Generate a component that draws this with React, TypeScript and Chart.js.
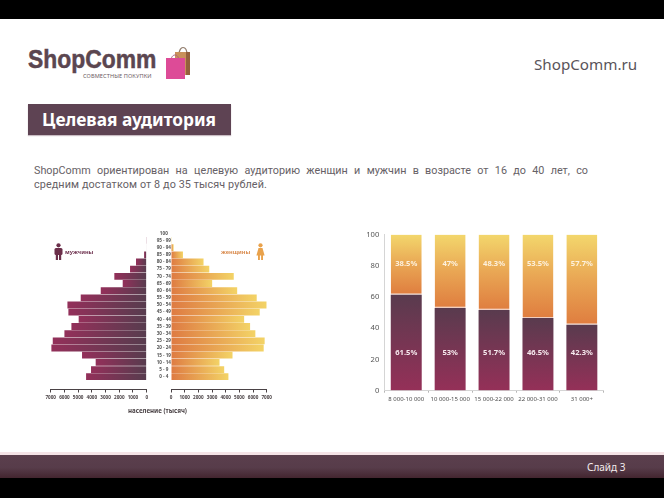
import React, { useEffect, useRef } from "react";
import { Chart, registerables } from "chart.js";

Chart.register(...registerables);

const ages = ["100", "95 - 99", "90 - 94", "85 - 89", "80 - 84", "75 - 79", "70 - 74", "65 - 69", "60 - 64", "55 - 59", "50 - 54", "45 - 49", "40 - 44", "35 - 39", "30 - 34", "25 - 29", "20 - 24", "15 - 19", "10 - 14", "5 - 9", "0 - 4"];
const male = [0, 20, 40, 190, 780, 1215, 2360, 1750, 3350, 4810, 5780, 5710, 4960, 5490, 6000, 6850, 6950, 4715, 3720, 4060, 4420];
const female = [0, 20, 190, 875, 2380, 2800, 4590, 3010, 4840, 6270, 7000, 6490, 5350, 5785, 6170, 6850, 6780, 4500, 3550, 3890, 4200];
const incomes = ["8 000-10 000", "10 000-15 000", "15 000-22 000", "22 000-31 000", "31 000+"];
const lowerShare = [61.5, 53, 51.7, 46.5, 42.3];
const upperShare = [38.5, 47, 48.3, 53.5, 57.7];
const labelLevels = [24, 81];

const TICK = "#4a4245";

function pyramidOptions(side: "left" | "right", showAges: boolean, pad: any): any {
  return {
    responsive: false,
    animation: false,
    indexAxis: "y",
    layout: { padding: pad },
    plugins: { legend: { display: false }, tooltip: { enabled: false } },
    scales: {
      x: {
        position: { y: 21.85 },
        min: 0,
        max: 7000,
        reverse: side === "left",
        border: { color: TICK, width: 1 },
        grid: { drawOnChartArea: false, drawTicks: true, tickLength: 2.5, tickColor: TICK },
        ticks: {
          stepSize: 1000, autoSkip: false, maxRotation: 0, padding: 2, color: TICK,
          font: { family: "Noto Sans", size: 4.6, weight: "bold" },
          callback: (v: any) => String(v),
        },
      },
      y: {
        display: showAges,
        grid: { display: false, drawTicks: false },
        border: { display: false },
        afterFit: (s: any) => { if (showAges) s.width = 24; },
        ticks: { autoSkip: false, crossAlign: "center", padding: 0, color: "#555", font: { family: "Noto Sans", size: 4.6, weight: "bold" } },
      },
    },
  };
}

function rowGradient(from: string, to: string) {
  return (c: any) => {
    const x = c.chart.scales?.x;
    if (!c.chart.chartArea || !x || c.raw === undefined) return from;
    const g = c.chart.ctx.createLinearGradient(x.getPixelForValue(0), 0, x.getPixelForValue(c.raw) + 0.01, 0);
    g.addColorStop(0, from);
    g.addColorStop(1, to);
    return g;
  };
}

function barGradient(bottom: string, top: string, lower: boolean) {
  return (c: any) => {
    const y = c.chart.scales?.y;
    if (!c.chart.chartArea || !y) return bottom;
    const split = lowerShare[c.dataIndex];
    const y0 = y.getPixelForValue(lower ? 0 : split);
    const y1 = y.getPixelForValue(lower ? split : 100);
    const g = c.chart.ctx.createLinearGradient(0, y0, 0, y1);
    g.addColorStop(0, bottom);
    if (!lower) g.addColorStop(0.5, "#e9a654");
    g.addColorStop(1, top);
    return g;
  };
}

const shareLabels = {
  id: "shareLabels",
  afterDatasetsDraw(chart: any) {
    const { ctx, scales } = chart;
    ctx.save();
    ctx.textAlign = "center";
    ctx.textBaseline = "middle";
    ctx.font = "bold 7.6px 'Noto Sans'";
    chart.data.datasets.forEach((ds: any, di: number) => {
      ctx.fillStyle = di === 0 ? "#f7e9ee" : "#fdf0dc";
      chart.getDatasetMeta(di).data.forEach((bar: any, i: number) => {
        ctx.fillText(`${ds.data[i]}%`, bar.x, scales.y.getPixelForValue(labelLevels[di]));
      });
    });
    ctx.restore();
  },
};

const Man = ({ x, y, fill }: { x: number; y: number; fill: string }) => (
  <svg style={{ position: "absolute", left: x, top: y }} width="9" height="17" viewBox="0 0 9 17">
    <circle cx="4.5" cy="2.3" r="2.1" fill={fill} />
    <rect x="0.5" y="5" width="8" height="7" rx="1.5" fill={fill} />
    <rect x="1.8" y="11" width="2.2" height="6" fill={fill} />
    <rect x="5" y="11" width="2.2" height="6" fill={fill} />
  </svg>
);

const Woman = ({ x, y, fill }: { x: number; y: number; fill: string }) => (
  <svg style={{ position: "absolute", left: x, top: y }} width="9" height="17" viewBox="0 0 9 17">
    <circle cx="4.5" cy="2.3" r="2.1" fill={fill} />
    <path d="M2.5 5 H6.5 L8.6 12.5 H0.4 Z" fill={fill} />
    <rect x="2" y="12" width="1.9" height="5" fill={fill} />
    <rect x="5.1" y="12" width="1.9" height="5" fill={fill} />
  </svg>
);

const text = (s: any): any => ({ position: "absolute", whiteSpace: "nowrap", ...s });

export default function App() {
  const leftRef = useRef<HTMLCanvasElement>(null);
  const rightRef = useRef<HTMLCanvasElement>(null);
  const stackRef = useRef<HTMLCanvasElement>(null);

  useEffect(() => {
    const left = new Chart(leftRef.current!, {
      type: "bar",
      data: {
        labels: ages,
        datasets: [{ data: male, barPercentage: 0.95, categoryPercentage: 1, backgroundColor: rowGradient("#573c4e", "#93305a") }],
      },
      options: pyramidOptions("left", false, { left: 10.7, right: 8.3, top: 4.7, bottom: 24.7 }),
    } as any);
    const right = new Chart(rightRef.current!, {
      type: "bar",
      data: {
        labels: ages,
        datasets: [{ data: female, barPercentage: 0.95, categoryPercentage: 1, backgroundColor: rowGradient("#de7a42", "#f3d366") }],
      },
      options: pyramidOptions("right", true, { left: 0, right: 12.3, top: 4.7, bottom: 24.7 }),
    } as any);
    const stack = new Chart(stackRef.current!, {
      type: "bar",
      data: {
        labels: incomes,
        datasets: [
          { data: lowerShare, stack: "s", barPercentage: 0.705, categoryPercentage: 1, backgroundColor: barGradient("#953058", "#593b4e", true) },
          {
            data: upperShare, stack: "s", barPercentage: 0.705, categoryPercentage: 1,
            backgroundColor: barGradient("#df7d3f", "#f3d76c", false),
            borderColor: "#f0cdbf", borderWidth: { top: 0, left: 0, right: 0, bottom: 1.2 }, borderSkipped: false,
          },
        ],
      },
      options: {
        responsive: false,
        animation: false,
        layout: { padding: { top: 9, right: 16.2, left: 0, bottom: 0 } },
        plugins: { legend: { display: false }, tooltip: { enabled: false } },
        scales: {
          x: {
            stacked: true,
            afterFit: (s: any) => { s.height = 19.3; },
            border: { color: "#d5d5d5" },
            grid: { drawOnChartArea: false, tickLength: 2, tickColor: "#b5b5b5" },
            ticks: { autoSkip: false, maxRotation: 0, padding: 3, color: "#4d4d4d", font: { family: "Noto Sans", size: 6 } },
          },
          y: {
            stacked: true,
            min: 0,
            max: 100,
            afterFit: (s: any) => { s.width = 34.3; },
            border: { color: "#d5d5d5" },
            grid: { drawOnChartArea: false, tickLength: 0 },
            ticks: { stepSize: 20, padding: 5, color: "#555", font: { family: "Noto Sans", size: 7.6 } },
          },
        },
      },
      plugins: [shareLabels],
    } as any);
    return () => { left.destroy(); right.destroy(); stack.destroy(); };
  }, []);

  return (
    <div style={{ position: "absolute", left: 0, top: 0, width: 664, height: 498, overflow: "hidden", background: "#fff", fontFamily: "'Noto Sans', sans-serif", filter: "blur(0.35px)" }}>
      <div style={{ position: "absolute", left: 0, top: 0, width: 664, height: 19, background: "#000" }} />

      <div style={text({ left: 28, top: 44.4, fontFamily: "'Liberation Sans', sans-serif", fontWeight: 700, fontSize: 26, lineHeight: "30px", color: "#5b4650", transform: "scaleX(0.88)", transformOrigin: "left", WebkitTextStroke: "0.5px #5b4650" })}>ShopComm</div>
      <div style={text({ left: 83, top: 72.5, fontSize: 5.6, lineHeight: "7px", color: "#6b5a62", letterSpacing: 0.1 })}>СОВМЕСТНЫЕ ПОКУПКИ</div>
      <svg style={{ position: "absolute", left: 165, top: 46 }} width="27" height="34" viewBox="0 0 27 34">
        <path d="M14 9 C14 -1 22 -1 22 9" fill="none" stroke="#8f7a6a" strokeWidth="1.2" />
        <rect x="10" y="6" width="15" height="23" fill="#c9905a" />
        <rect x="21" y="6" width="4" height="23" fill="#94603c" />
        <path d="M6 15 C6 7 14 7 14 15" fill="none" stroke="#a8607f" strokeWidth="1" />
        <rect x="1" y="12" width="19" height="21" fill="#dd4b97" />
      </svg>
      <div style={text({ left: 534, top: 52, fontSize: 15.2, lineHeight: "24px", color: "#59545a" })}>ShopComm.ru</div>

      <div style={{ position: "absolute", left: 28, top: 104, width: 203, height: 31, background: "#5e4353", boxShadow: "0 1px 1px #c9bcc3" }} />
      <div style={text({ left: 42, top: 104, fontSize: 18, fontWeight: 700, lineHeight: "31px", color: "#fff", fontFamily: "'Noto Sans', sans-serif", transform: "scaleX(0.96)", transformOrigin: "left" })}>Целевая аудитория</div>

      <div style={{ position: "absolute", left: 34, top: 163.5, width: 554, fontFamily: "Roboto, sans-serif", fontSize: 10.8, lineHeight: "14.4px", color: "#666166", textAlign: "justify", textAlignLast: "justify" }}>
        ShopComm ориентирован на целевую аудиторию женщин и мужчин в возрасте от 16 до 40 лет, со
      </div>
      <div style={text({ left: 34, top: 177.9, fontFamily: "Roboto, sans-serif", fontSize: 10.8, lineHeight: "14.4px", color: "#666166", letterSpacing: 0.1 })}>
        средним достатком от 8 до 35 тысяч рублей.
      </div>

      <canvas ref={leftRef} width={115} height={180} style={{ position: "absolute", left: 40, top: 225 }} />
      <canvas ref={rightRef} width={132} height={180} style={{ position: "absolute", left: 147, top: 225 }} />
      <canvas ref={stackRef} width={270} height={185} style={{ position: "absolute", left: 350, top: 225 }} />

      <Man x={54} y={243} fill="#6b2f4a" />
      <Woman x={256} y={243} fill="#e9a24c" />
      <div style={text({ left: 65, top: 248, fontSize: 5.6, fontWeight: 700, lineHeight: "8px", color: "#6f3350" })}>мужчины</div>
      <div style={text({ left: 221, top: 248, fontSize: 5.6, fontWeight: 700, lineHeight: "8px", color: "#d98a4c" })}>женщины</div>
      <div style={text({ left: 128, top: 406, fontSize: 6.2, fontWeight: 700, lineHeight: "9px", color: "#4a4245" })}>население (тысяч)</div>

      <div style={{ position: "absolute", left: 0, top: 452, width: 664, height: 3, background: "#f5e3e6" }} />
      <div style={{ position: "absolute", left: 0, top: 455, width: 664, height: 23, background: "linear-gradient(#5b3f4d, #573c4a 55%, #43252f)" }} />
      <div style={{ position: "absolute", left: 0, top: 478, width: 664, height: 20, background: "#000" }} />
      <div style={text({ left: 587, top: 460, fontSize: 10, lineHeight: "14px", color: "#f3ecee" })}>Слайд 3</div>
    </div>
  );
}
